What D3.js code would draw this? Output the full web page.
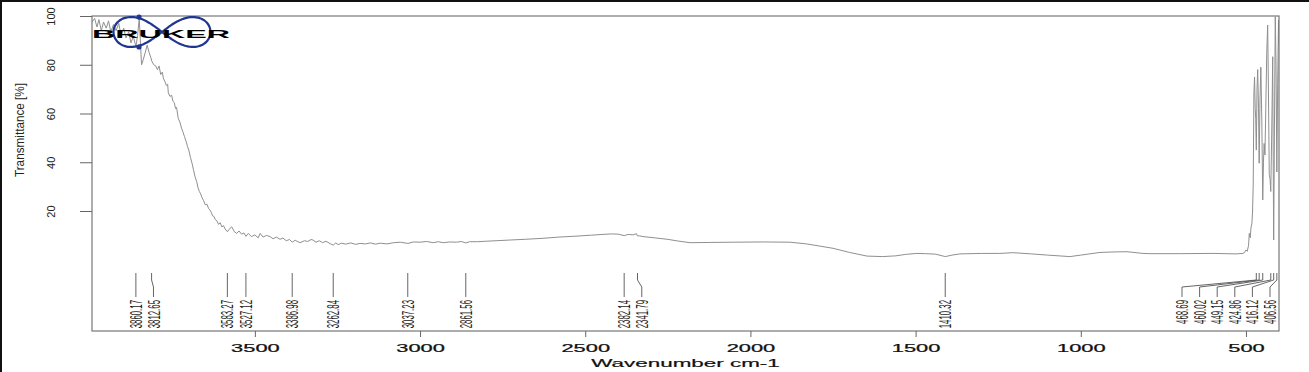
<!DOCTYPE html>
<html><head><meta charset="utf-8">
<script src="https://cdn.jsdelivr.net/npm/d3@7"></script>
<style>body{margin:0;background:#fff;} svg{display:block;} text{font-family:"Liberation Sans",Arial,sans-serif;}</style>
</head><body><svg id="chart" width="1309" height="372"></svg>
<script>
const wavenumber = [3993,3985,3978,3972,3965,3958,3950,3943,3936,3928,3920,3912,3905,3897,3890,3882,3875,3868,3860,3855,3850,3846,3843,3838,3832,3826,3820,3815,3812,3806,3800,3795,3790,3785,3780,3777,3772,3768,3764,3762,3757,3752,3748,3744,3740,3737,3732,3727,3722,3718,3713,3708,3704,3700,3695,3690,3686,3681,3676,3672,3668,3664,3660,3655,3650,3645,3640,3636,3632,3628,3624,3620,3615,3610,3605,3600,3595,3590,3583,3578,3570,3562,3555,3548,3540,3533,3527,3520,3510,3500,3490,3484,3475,3465,3454,3445,3435,3424,3415,3405,3395,3387,3378,3370,3363,3350,3340,3330,3324,3315,3305,3295,3285,3272,3263,3255,3248,3238,3225,3210,3195,3182,3165,3150,3135,3120,3100,3080,3060,3037,3020,3000,2980,2960,2945,2930,2910,2890,2875,2862,2850,2827,2800,2770,2727,2680,2628,2580,2525,2480,2446,2420,2400,2382,2370,2355,2345,2342,2335,2325,2290,2252,2220,2183,2120,2053,1960,1880,1830,1790,1750,1700,1647,1600,1560,1530,1496,1470,1440,1410,1390,1366,1300,1245,1205,1150,1100,1033,1000,942,900,860,812,790,700,600,530,509,503,500,496,492,490,487,485,482,480,478,476,474,472,470.5,468.7,466.5,464.5,462,460,457.5,455,452,449.2,447,445,442.5,440,437,434.3,432,429.5,427,424.9,422,419,417.6,416.1,414,411.3,409,406.6,404,401.5,400];
const transmittance = [97.5,99,95.5,98.5,94,97.5,95,98,93.5,96.5,94,97,92,95,91,93.5,89,91.5,87.5,92,99,88,80,82,85,88,85,83,81.5,80,79.5,78,79.5,76,77,74.5,73,71.5,72,68.5,67,67.5,65,64.5,62,62.5,58,56.5,54,52.5,50.5,48.5,46.5,45,42,39.5,37,34,32,29.5,28,27,25.5,24.2,22.5,22.8,21,20.4,19.5,18,17.8,16.5,16,14.5,15.2,13.5,14,12.6,11.5,12.5,13.5,11.5,10.8,11.8,10.5,11,9.6,10.8,9.5,10.2,9,10.8,9.3,10,9.5,8.6,9.3,8.4,8.9,7.8,8.3,7.2,8,7.4,7.0,7.8,7.5,8.3,8.1,7.2,7.8,7.0,7.6,6.6,6.0,6.9,6.2,6.8,6.4,6.9,6.3,6.7,6.5,6.9,6.4,6.8,6.5,7.0,7.2,6.7,7.3,7.2,7.5,7.0,7.4,7.0,7.3,7.2,7.5,6.9,7.4,7.4,7.6,7.8,8.1,8.4,8.8,9.3,9.7,10.1,10.4,10.6,10.5,9.9,10.4,10.2,10.7,9.8,9.8,9.5,9.0,8.4,7.7,7.0,7.1,7.2,7.3,7.2,6.5,5.6,4.7,3.0,1.5,1.3,1.6,2.2,2.6,2.5,2.3,1.3,1.9,2.4,2.6,2.6,2.9,2.4,1.9,1.3,1.9,3.0,3.2,3.3,2.6,2.5,2.5,2.6,2.4,2.6,3.2,4.0,3.5,6,10.8,9,13,15,20,31,68,75,62,58,45,70,78,62,39.6,66,79,57,24.5,40,47.7,43,62,85,96.3,70,35,33,28,52,83.3,42,8.1,50,99.7,80,36,72,98.4,88];
const peakWavenumbers = [3860.17,3812.65,3583.27,3527.12,3386.98,3262.84,3037.23,2861.56,2382.14,2341.79,1410.32,468.69,460.02,449.15,424.86,416.12,406.56];
const peakLabels = ["3860.17","3812.65","3583.27","3527.12","3386.98","3262.84","3037.23","2861.56","2382.14","2341.79","1410.32","468.69","460.02","449.15","424.86","416.12","406.56"];
const xTickValues = [3500,3000,2500,2000,1500,1000,500];
const yTickValues = [20,40,60,80,100];
const xTitle = "Wavenumber cm-1";
const yTitle = "Transmittance [%]";
const logoText = "BRUKER";

const W = 1309, H = 372;
const M = {left: 92, right: 1279, top: 16, bottom: 331};
const svg = d3.select("#chart");
svg.append("rect").attr("width", W).attr("height", H).attr("fill", "#fff");
svg.append("path").attr("d", `M0,1H${W}M1,0V${H}`).attr("stroke", "#111").attr("stroke-width", 2).attr("fill", "none");

const x = d3.scaleLinear().domain([3993, 400]).range([M.left, M.right]);
const y = d3.scaleLinear().domain([-29.23, 100]).range([M.bottom, M.top]);

svg.append("defs").append("clipPath").attr("id", "clip")
  .append("rect").attr("x", M.left).attr("y", M.top).attr("width", M.right - M.left).attr("height", M.bottom - M.top);

// spectrum
const line = d3.line().x(d => x(d[0])).y(d => y(d[1]));
svg.append("path").datum(d3.zip(wavenumber, transmittance))
  .attr("clip-path", "url(#clip)")
  .attr("d", line).attr("fill", "none").attr("stroke", "#8f8f8f").attr("stroke-width", 1);

// frame
svg.append("rect").attr("x", M.left).attr("y", M.top).attr("width", M.right - M.left).attr("height", M.bottom - M.top)
  .attr("fill", "none").attr("stroke", "#777").attr("stroke-width", 1.2);

// x axis
const gx = svg.append("g").attr("transform", `translate(0,${M.bottom})`)
  .call(d3.axisBottom(x).tickValues(xTickValues).tickSize(6).tickFormat(d3.format("d")));
gx.select(".domain").remove();
gx.selectAll("line").attr("stroke", "#666");
gx.selectAll("text").attr("font-size", 11.5).attr("fill", "#111").attr("font-family", "Liberation Sans, Arial, sans-serif")
  .attr("y", 13).attr("transform", "scale(1.9,1)").attr("stroke", "#111").attr("stroke-width", 0.25);

// y axis
const gy = svg.append("g").attr("transform", `translate(${M.left},0)`)
  .call(d3.axisLeft(y).tickValues(yTickValues).tickSize(12));
gy.select(".domain").remove();
gy.selectAll("line").attr("stroke", "#666");
gy.selectAll("text").attr("font-size", 11).attr("fill", "#222").attr("font-family", "Liberation Sans, Arial, sans-serif")
  .attr("x", 0).attr("dy", "0.36em").attr("text-anchor", "middle")
  .attr("transform", "translate(-41,0) rotate(-90)");

// titles
svg.append("text").attr("transform", `translate(${(M.left + M.right) / 2},366.5) scale(1.95,1)`)
  .attr("text-anchor", "middle").attr("font-size", 11.5).attr("fill", "#111").attr("stroke", "#111").attr("stroke-width", 0.2).text(xTitle);
svg.append("text").attr("transform", "translate(20,130) rotate(-90)")
  .attr("text-anchor", "middle").attr("dy", "0.36em").attr("font-size", 12).attr("fill", "#222")
  .attr("textLength", 94).attr("lengthAdjust", "spacingAndGlyphs").text(yTitle);

// peak labels with de-overlap
const gap = 17.6, rightLimit = M.right - 9;
const peaks = peakWavenumbers.map((wn, i) => ({wn, label: peakLabels[i], px: x(wn)})).sort((a, b) => a.px - b.px);
peaks.forEach((p, i) => { p.lx = i === 0 ? p.px : Math.max(p.px, peaks[i - 1].lx + gap); });
for (let i = peaks.length - 1; i >= 0; i--) {
  const lim = i === peaks.length - 1 ? rightLimit : peaks[i + 1].lx - gap;
  peaks[i].lx = Math.min(peaks[i].lx, lim);
}
const gp = svg.append("g");
gp.selectAll("path").data(peaks).join("path")
  .attr("d", p => Math.abs(p.lx - p.px) < 0.5
    ? `M${p.px},273V297`
    : `M${p.px},273V280L${p.lx},287V297`)
  .attr("fill", "none").attr("stroke", "#555").attr("stroke-width", 0.9);
gp.selectAll("text").data(peaks).join("text")
  .attr("transform", p => `translate(${p.lx},300) rotate(-90) scale(0.49,1)`)
  .attr("text-anchor", "end").attr("dy", "0.38em").attr("font-size", 16).attr("fill", "#1a1a1a")
  .text(p => p.label);

// logo
const logo = svg.append("g");
const cx = 162, cy = 32, a = 48.5;
const lem = d3.range(0, 2 * Math.PI + 0.01, 0.05).map(t => {
  const s = Math.sin(t), c = Math.cos(t), d = 1 + 0.6 * s * s;
  return [cx + a * c / d, cy + 0.78 * a * s * c / d];
});
logo.append("path").attr("d", d3.line().curve(d3.curveCatmullRomClosed)(lem))
  .attr("fill", "none").attr("stroke", "#1f3690").attr("stroke-width", 2.2);
logo.selectAll("circle").data([17, 47]).join("circle")
  .attr("cx", 139).attr("cy", d => d).attr("r", 2.6).attr("fill", "#1f3690");
logo.append("text").attr("x", 92).attr("y", 37.5).attr("font-size", 11).attr("font-weight", 900)
  .attr("font-family", "DejaVu Sans, sans-serif").attr("fill", "#000")
  .attr("textLength", 138).attr("lengthAdjust", "spacingAndGlyphs").text(logoText);
</script></body></html>
